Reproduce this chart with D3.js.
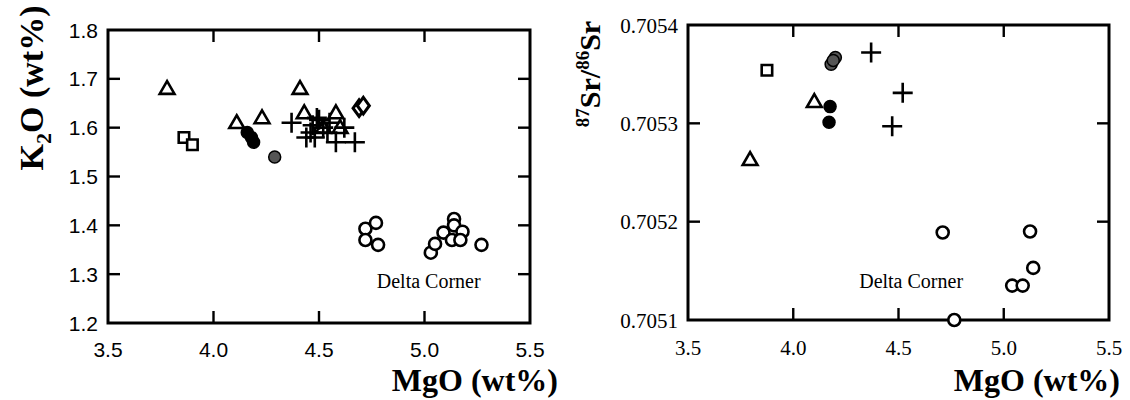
<!DOCTYPE html>
<html>
<head>
<meta charset="utf-8">
<script src="https://cdn.jsdelivr.net/npm/d3@7"></script>
<style>
  html, body { margin: 0; padding: 0; background: #fff; }
  svg { display: block; }
</style>
</head>
<body>
<svg id="chart" width="1130" height="400"></svg>
<script>
// ---- K2O vs MgO (left panel) ----
const k2oTriangles = [[3.78,1.68],[4.11,1.61],[4.23,1.62],[4.41,1.68],[4.43,1.63],[4.58,1.63],[4.60,1.60],[4.52,1.60]];
const k2oSquares   = [[3.86,1.58],[3.90,1.565]];
const k2oFilled    = [[4.16,1.59],[4.18,1.58],[4.19,1.57]];
const k2oGrey      = [[4.29,1.54]];
const k2oDiamonds  = [[4.69,1.64],[4.71,1.645]];
const k2oPlus      = [[4.37,1.61],[4.44,1.58],[4.47,1.605],[4.50,1.616],[4.58,1.57],[4.62,1.60],[4.67,1.57],
                      [4.46,1.59],[4.52,1.60],[4.55,1.61],[4.49,1.62],[4.54,1.59],[4.48,1.58]];
const k2oOpen      = [[4.72,1.393],[4.77,1.405],[4.72,1.37],[4.78,1.36],[5.03,1.344],[5.05,1.362],[5.09,1.385],
                      [5.14,1.413],[5.14,1.40],[5.13,1.37],[5.18,1.387],[5.17,1.37],[5.27,1.36]];

// ---- 87Sr/86Sr vs MgO (right panel) ----
const srTriangles = [[3.795,0.705263],[4.10,0.705322]];
const srSquares   = [[3.875,0.705354]];
const srFilled    = [[4.175,0.705317],[4.17,0.705301]];
const srGrey      = [[4.18,0.705360],[4.20,0.705367],[4.19,0.705364]];
const srPlus      = [[4.37,0.705372],[4.52,0.705331],[4.47,0.705297]];
const srOpen      = [[4.71,0.705189],[5.125,0.705190],[5.14,0.705153],[5.04,0.705135],[5.09,0.705135],[4.765,0.705100]];

const mgoTicks  = [3.5, 4.0, 4.5, 5.0, 5.5];
const k2oTicks  = [1.2, 1.3, 1.4, 1.5, 1.6, 1.7, 1.8];
const srTicks   = [0.7051, 0.7052, 0.7053, 0.7054];

const svg = d3.select("#chart");
const serif = "'Liberation Serif', 'Times New Roman', serif";
const SW = 3;

function marks(g, x, y, data, kind) {
  const sel = g.selectAll(null).data(data).enter();
  if (kind === "circle" || kind === "filled" || kind === "grey") {
    sel.append("circle")
      .attr("cx", d => x(d[0])).attr("cy", d => y(d[1])).attr("r", 6)
      .attr("fill", kind === "circle" ? "#fff" : kind === "filled" ? "#000" : "#555")
      .attr("stroke", "#000").attr("stroke-width", kind === "circle" ? 2.6 : 1.5);
  } else if (kind === "plus") {
    sel.append("path")
      .attr("transform", d => `translate(${x(d[0])},${y(d[1])})`)
      .attr("d", "M-10,0H10M0,-10V10")
      .attr("stroke", "#000").attr("stroke-width", 2.6).attr("fill", "none");
  } else {
    const type = kind === "triangle" ? d3.symbolTriangle : kind === "square" ? d3.symbolSquare : d3.symbolDiamond;
    const size = kind === "triangle" ? 95 : kind === "square" ? 110 : 80;
    sel.append("path")
      .attr("transform", d => `translate(${x(d[0])},${y(d[1]) + (kind === "triangle" ? 1 : 0)})` + (kind === "diamond" ? " scale(1.25,1)" : ""))
      .attr("d", d3.symbol().type(type).size(size)())
      .attr("fill", "#fff").attr("stroke", "#000").attr("stroke-width", 2.6);
  }
}

function panel(opt) {
  const g = svg.append("g");
  const x = d3.scaleLinear().domain([3.5, 5.5]).range([opt.left, opt.right]);
  const y = d3.scaleLinear().domain(opt.ydom).range([opt.bottom, opt.top]);
  const tl = 12;

  // inward ticks on all four sides
  const xt = mgoTicks.slice(1, -1);
  const yt = opt.yticks.slice(1, -1);
  xt.forEach(v => {
    [[opt.bottom, opt.bottom - tl], [opt.top, opt.top + tl]].forEach(([a, b]) =>
      g.append("line").attr("x1", x(v)).attr("x2", x(v)).attr("y1", a).attr("y2", b)
        .attr("stroke", "#000").attr("stroke-width", 2.4));
  });
  yt.forEach(v => {
    [[opt.left, opt.left + tl], [opt.right, opt.right - tl]].forEach(([a, b]) =>
      g.append("line").attr("y1", y(v)).attr("y2", y(v)).attr("x1", a).attr("x2", b)
        .attr("stroke", "#000").attr("stroke-width", 2.4));
  });

  // frame
  g.append("rect").attr("x", opt.left).attr("y", opt.top)
    .attr("width", opt.right - opt.left).attr("height", opt.bottom - opt.top)
    .attr("fill", "none").attr("stroke", "#000").attr("stroke-width", SW);

  // tick labels
  g.selectAll(null).data(mgoTicks).enter().append("text")
    .attr("x", d => x(d)).attr("y", opt.bottom + opt.xlabOff)
    .attr("text-anchor", "middle")
    .style("font-family", opt.tickFont).style("font-size", opt.tickSize + "px")
    .text(d => d.toFixed(1));
  g.selectAll(null).data(opt.yticks).enter().append("text")
    .attr("x", opt.left - 10).attr("y", d => y(d) + opt.tickSize * 0.36)
    .attr("text-anchor", "end")
    .style("font-family", opt.tickFont).style("font-size", opt.tickSize + "px")
    .text(opt.yfmt);

  // axis title
  g.append("text").attr("x", opt.titleEnd).attr("y", 391).attr("text-anchor", "end")
    .style("font-family", serif)
    .style("font-weight", "bold").style("font-size", "32px")
    .text("MgO (wt%)");

  // locality label
  g.append("text").attr("x", x(opt.labelX)).attr("y", 288).attr("text-anchor", "middle")
    .style("font-family", serif).style("font-size", "20px")
    .text("Delta Corner");

  const m = opt.series;
  marks(g, x, y, m.open, "circle");
  marks(g, x, y, m.tri, "triangle");
  marks(g, x, y, m.sq, "square");
  if (m.dia) marks(g, x, y, m.dia, "diamond");
  marks(g, x, y, m.plus, "plus");
  marks(g, x, y, m.grey, "grey");
  marks(g, x, y, m.filled, "filled");
  return g;
}

panel({
  left: 108, right: 530, top: 30, bottom: 323,
  ydom: [1.2, 1.8], yticks: k2oTicks, yfmt: d => d.toFixed(1),
  tickFont: "'Liberation Sans', Arial, sans-serif", tickSize: 21, xlabOff: 34,
  labelX: 5.02, titleEnd: 558,
  series: { open: k2oOpen, tri: k2oTriangles, sq: k2oSquares, dia: k2oDiamonds,
            plus: k2oPlus, grey: k2oGrey, filled: k2oFilled }
});

panel({
  left: 688, right: 1109, top: 25, bottom: 320,
  ydom: [0.7051, 0.7054], yticks: srTicks, yfmt: d => d.toFixed(4),
  tickFont: serif, tickSize: 21, xlabOff: 35,
  labelX: 4.56, titleEnd: 1120,
  series: { open: srOpen, tri: srTriangles, sq: srSquares,
            plus: srPlus, grey: srGrey, filled: srFilled }
});

// rotated y-axis titles
const ky = svg.append("text").attr("transform", "translate(43,88) rotate(-90)")
  .attr("text-anchor", "middle")
  .style("font-family", serif).style("font-weight", "bold").style("font-size", "34px");
ky.append("tspan").text("K");
ky.append("tspan").attr("dy", 8).style("font-size", "22px").text("2");
ky.append("tspan").attr("dy", -8).text("O (wt%)");

const sy = svg.append("text").attr("transform", "translate(600,74) rotate(-90)")
  .attr("text-anchor", "middle")
  .style("font-family", serif).style("font-weight", "bold").style("font-size", "30px");
sy.append("tspan").attr("dy", -11).style("font-size", "19px").text("87");
sy.append("tspan").attr("dy", 11).text("Sr/");
sy.append("tspan").attr("dy", -11).style("font-size", "19px").text("86");
sy.append("tspan").attr("dy", 11).text("Sr");
</script>
</body>
</html>
